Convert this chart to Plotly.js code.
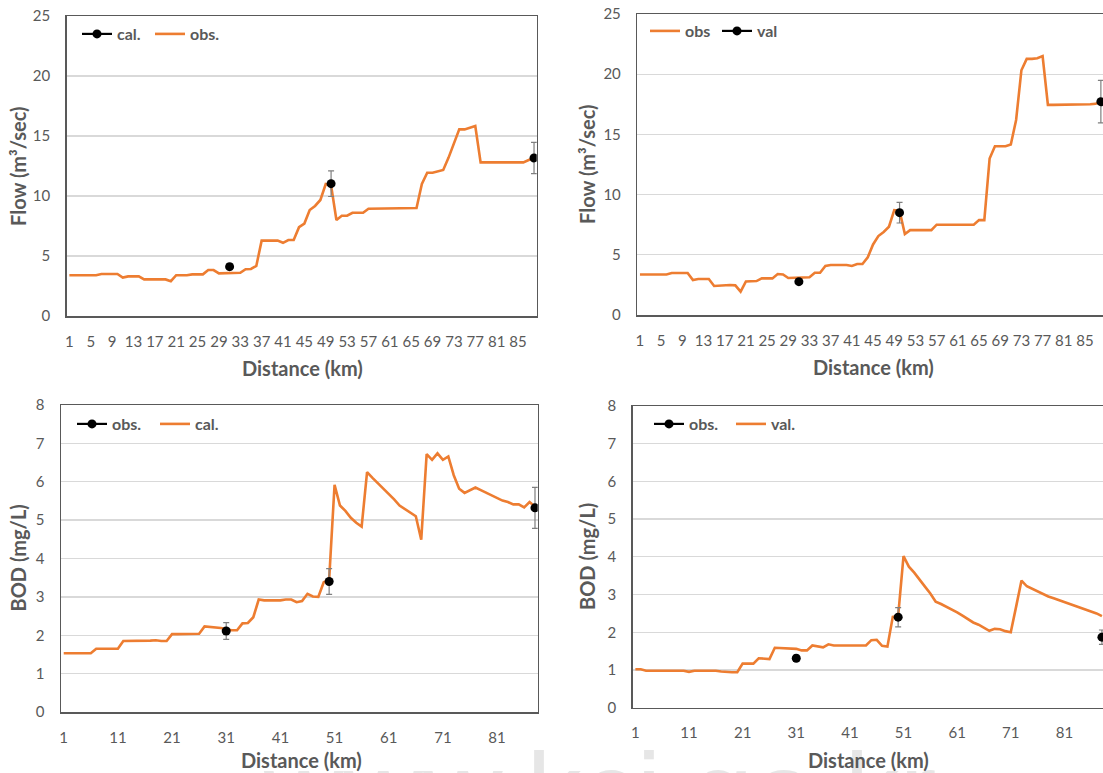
<!DOCTYPE html>
<html>
<head>
<meta charset="utf-8">
<script src="https://cdn.plot.ly/plotly-3.0.1.min.js"></script>
<style>
  html, body { margin: 0; padding: 0; background: #ffffff; }
  #chart { width: 1103px; height: 773px; }
</style>
</head>
<body>
<div id="chart"></div>
<script>
// ---------- DATA ----------
const distanceKm = [1,2,3,4,5,6,7,8,9,10,11,12,13,14,15,16,17,18,19,20,21,22,23,24,25,26,27,28,29,30,
  31,32,33,34,35,36,37,38,39,40,41,42,43,44,45,46,47,48,49,50,51,52,53,54,55,56,57,58,59,60,
  61,62,63,64,65,66,67,68,69,70,71,72,73,74,75,76,77,78,79,80,81,82,83,84,85,86,87,88];

// Panel A (top-left): flow, calibration period
const flowCalibLine = [3.4,3.4,3.4,3.4,3.4,3.4,3.5,3.5,3.5,3.5,3.2,3.3,3.3,3.3,3.05,3.05,3.05,3.05,3.05,2.9,
  3.4,3.4,3.4,3.47,3.47,3.47,3.83,3.83,3.55,3.55,3.56,3.58,3.6,3.9,3.92,4.17,6.28,6.28,6.28,6.28,
  6.1,6.33,6.33,7.4,7.7,8.83,9.17,9.67,11.0,10.9,8.0,8.36,8.36,8.6,8.6,8.6,8.94,8.94,8.94,8.94,
  8.94,8.94,8.94,8.94,9.0,9.0,11.0,11.94,11.94,12.06,12.17,13.2,14.4,15.55,15.55,15.7,15.83,12.8,12.8,12.8,
  12.8,12.8,12.8,12.8,12.8,12.8,13.0,13.14];
const flowCalibPointKm = [31, 50, 88];
const flowCalibPoint = [4.11, 11.03, 13.17];
const flowCalibErr = [0.25, 1.07, 1.3];

// Panel B (top-right): flow, validation period
const flowValidLine = [3.37,3.37,3.37,3.37,3.37,3.37,3.49,3.49,3.49,3.49,2.9,2.99,2.99,2.99,2.41,2.44,2.49,2.49,2.46,1.94,
  2.79,2.79,2.82,3.04,3.04,3.04,3.4,3.37,3.07,3.07,3.07,3.07,3.13,3.51,3.51,4.07,4.15,4.15,4.15,4.15,
  4.07,4.23,4.23,4.79,5.86,6.56,6.9,7.33,8.71,8.66,6.72,7.05,7.05,7.05,7.05,7.05,7.5,7.5,7.5,7.5,
  7.5,7.5,7.5,7.5,7.88,7.88,13.0,14.02,14.02,14.02,14.16,16.2,20.33,21.27,21.27,21.33,21.5,17.45,17.45,17.45,
  17.45,17.45,17.45,17.45,17.45,17.5,17.54,17.73];
const flowValidPointKm = [31, 50, 88];
const flowValidPoint = [2.77, 8.5, 17.72];
const flowValidErr = [0.1, 0.86, 1.77];

// Panel C (bottom-left): BOD, calibration period
const bodCalibLine = [1.53,1.53,1.53,1.53,1.53,1.53,1.65,1.65,1.65,1.65,1.65,1.85,1.85,1.85,1.85,1.85,1.86,1.87,1.85,1.85,
  2.03,2.03,2.03,2.04,2.04,2.04,2.23,2.22,2.2,2.19,2.16,2.13,2.13,2.31,2.32,2.47,2.93,2.91,2.91,2.91,
  2.91,2.93,2.93,2.86,2.89,3.08,3.01,3.0,3.38,3.45,5.92,5.38,5.24,5.06,4.93,4.83,6.25,6.1,5.96,5.82,
  5.7,5.54,5.38,5.28,5.19,5.1,4.49,6.72,6.57,6.74,6.57,6.66,6.17,5.82,5.71,5.77,5.85,5.78,5.71,5.64,
  5.57,5.51,5.47,5.41,5.41,5.33,5.47,5.35];
const bodCalibPointKm = [31, 50, 88];
const bodCalibPoint = [2.11, 3.4, 5.32];
const bodCalibErr = [0.22, 0.335, 0.536];

// Panel D (bottom-right): BOD, validation period
const bodValidLine = [1.02,1.02,0.98,0.98,0.98,0.98,0.98,0.98,0.98,0.98,0.95,0.98,0.98,0.98,0.98,0.98,0.96,0.94,0.94,0.94,
  1.17,1.17,1.17,1.31,1.29,1.29,1.59,1.58,1.56,1.56,1.56,1.52,1.52,1.65,1.62,1.6,1.68,1.65,1.65,1.65,
  1.65,1.65,1.65,1.65,1.79,1.8,1.64,1.62,2.41,2.43,4.02,3.74,3.58,3.38,3.21,3.03,2.81,2.75,2.68,2.61,
  2.53,2.44,2.34,2.26,2.2,2.13,2.04,2.09,2.08,2.03,2.0,2.68,3.37,3.22,3.15,3.07,3.0,2.95,2.9,2.85,
  2.8,2.75,2.7,2.65,2.61,2.57,2.5,2.43];
const bodValidPointKm = [31, 50, 88];
const bodValidPoint = [1.31, 2.4, 1.87];
const bodValidErr = [0.08, 0.256, 0.19];

// ---------- STYLE ----------
const ORANGE = '#ED7D31';
const GREY_TEXT = '#595959';
const FONT = 'Lato, "Open Sans", "Noto Sans", sans-serif';
const W = 1103, H = 773;

// place sparse observations on the full distance axis (gaps where not observed)
function spread(km, vals) {
  return distanceKm.map(d => { const k = km.indexOf(d); return k >= 0 ? vals[k] : null; });
}

function lineTrace(y, name, xa, ya, leg, rank) {
  return { x: distanceKm, y: y, name: name, type: 'scatter', mode: 'lines',
    line: { color: ORANGE, width: 2.6 }, xaxis: xa, yaxis: ya, legend: leg, legendrank: rank,
    hoverinfo: 'x+y' };
}
function pointTrace(km, vals, errs, name, xa, ya, leg, rank) {
  return { x: distanceKm, y: spread(km, vals), name: name, type: 'scatter', mode: 'lines+markers',
    connectgaps: false,
    line: { color: '#000000', width: 2.2 },
    marker: { color: '#000000', size: 9 },
    error_y: { type: 'data', array: spread(km, errs), visible: true, color: '#7f7f7f', thickness: 1.2, width: 3 },
    xaxis: xa, yaxis: ya, legend: leg, legendrank: rank, hoverinfo: 'x+y' };
}

const traces = [
  lineTrace(flowCalibLine, 'obs.', 'x', 'y', 'legend', 2),
  pointTrace(flowCalibPointKm, flowCalibPoint, flowCalibErr, 'cal.', 'x', 'y', 'legend', 1),
  lineTrace(flowValidLine, 'obs', 'x2', 'y2', 'legend2', 1),
  pointTrace(flowValidPointKm, flowValidPoint, flowValidErr, 'val', 'x2', 'y2', 'legend2', 2),
  lineTrace(bodCalibLine, 'cal.', 'x3', 'y3', 'legend3', 2),
  pointTrace(bodCalibPointKm, bodCalibPoint, bodCalibErr, 'obs.', 'x3', 'y3', 'legend3', 1),
  lineTrace(bodValidLine, 'val.', 'x4', 'y4', 'legend4', 2),
  pointTrace(bodValidPointKm, bodValidPoint, bodValidErr, 'obs.', 'x4', 'y4', 'legend4', 1)
];

// pixel helpers
const px = v => v / W;
const py = v => 1 - v / H;

function xAxis(l, r, dtick, rangeMax, anchor, mirror) {
  return { domain: [px(l), Math.min(1, px(r))], anchor: anchor, range: [0.5, rangeMax],
    tickmode: 'linear', tick0: 1, dtick: dtick, tickangle: 0,
    showgrid: false, zeroline: false, showline: true, linecolor: '#595959', linewidth: 1.5, mirror: mirror,
    ticks: 'outside', ticklen: 11, tickcolor: 'rgba(0,0,0,0)',
    tickfont: { family: FONT, size: 15, color: GREY_TEXT }, automargin: false, fixedrange: true };
}
function yAxis(top, bottom, max, dtick, anchor, mirror) {
  return { domain: [py(bottom), py(top)], anchor: anchor, range: [0, max],
    tickmode: 'linear', tick0: 0, dtick: dtick,
    showgrid: true, gridcolor: '#d9d9d9', gridwidth: 1.3, zeroline: false,
    showline: true, linecolor: '#595959', linewidth: 1.5, mirror: mirror,
    ticks: 'outside', ticklen: 12, tickcolor: 'rgba(0,0,0,0)',
    tickfont: { family: FONT, size: 15, color: GREY_TEXT }, automargin: false, fixedrange: true };
}

function legendAt(xpx, ypx, entry) {
  return { x: px(xpx), y: py(ypx), xanchor: 'left', yanchor: 'middle', orientation: 'h',
    bgcolor: 'rgba(0,0,0,0)', borderwidth: 0, entrywidth: entry, entrywidthmode: 'pixels',
    font: { family: FONT, size: 16, color: GREY_TEXT, weight: 'bold' } };
}

function title(text, xpx, ypx, angle) {
  return { text: text, x: px(xpx), y: py(ypx), xref: 'paper', yref: 'paper', showarrow: false,
    xanchor: 'center', yanchor: 'middle', textangle: angle,
    font: { family: FONT, size: 20, color: GREY_TEXT, weight: 'bold' } };
}

const layout = {
  width: W, height: H,
  margin: { l: 0, r: 0, t: 0, b: 0 },
  paper_bgcolor: '#ffffff', plot_bgcolor: '#ffffff',
  font: { family: FONT, color: GREY_TEXT },
  showlegend: true,
  xaxis:  xAxis(66.7, 536.7, 4, 88.5, 'y', true),
  yaxis:  yAxis(16, 316, 25, 5, 'x', true),
  xaxis2: xAxis(637.3, 1103, 4, 88.4, 'y2', true),
  yaxis2: yAxis(14, 315, 25, 5, 'x2', false),
  xaxis3: xAxis(61, 537.7, 10, 88.5, 'y3', true),
  yaxis3: yAxis(405, 712, 8, 1, 'x3', true),
  xaxis4: xAxis(632.7, 1103, 10, 88.2, 'y4', true),
  yaxis4: yAxis(406, 707.7, 8, 1, 'x4', false),
  legend:  legendAt(77, 34, 28),
  legend2: legendAt(645, 31, 27),
  legend3: legendAt(72, 424, 38),
  legend4: legendAt(649, 424, 37),
  annotations: [
    { text: 'www.kci.go.kr', x: px(599), y: py(727), xref: 'paper', yref: 'paper', showarrow: false,
      xanchor: 'center', yanchor: 'top',
      font: { family: '"Liberation Sans", Arial, sans-serif', size: 110, color: '#e6e6e6' } },
    title('Distance (km)', 302, 368, 0),
    title('Flow (m³/sec)', 18, 166, -90),
    title('Distance (km)', 873, 367, 0),
    title('Flow (m³/sec)', 587, 164, -90),
    title('Distance (km)', 301, 760, 0),
    title('BOD (mg/L)', 17.5, 558, -90),
    title('Distance (km)', 868, 760, 0),
    title('BOD (mg/L)', 587, 557, -90)
  ]
};

Plotly.newPlot('chart', traces, layout, { displayModeBar: false, staticPlot: true });
</script>
</body>
</html>
